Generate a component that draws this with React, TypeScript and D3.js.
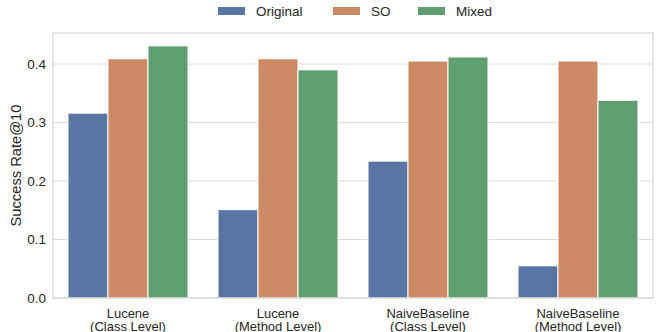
import React, { useEffect, useRef } from "react";
import * as d3 from "d3";

const categories = [
  ["Lucene", "(Class Level)"],
  ["Lucene", "(Method Level)"],
  ["NaiveBaseline", "(Class Level)"],
  ["NaiveBaseline", "(Method Level)"],
];
const seriesNames = ["Original", "SO", "Mixed"];
const original = [0.316, 0.151, 0.234, 0.055];
const so = [0.409, 0.409, 0.405, 0.405];
const mixed = [0.431, 0.390, 0.412, 0.338];
const yTicks = [0.0, 0.1, 0.2, 0.3, 0.4];
const colors = ["#5875a4", "#cc8963", "#5f9e6e"];

function App() {
  const svgRef = useRef<SVGSVGElement>(null);
  const width = 664;
  const height = 332;

  useEffect(() => {
    const svg = d3.select(svgRef.current);
    svg.selectAll("*").remove();
    const font = "'Liberation Sans', Arial, sans-serif";

    const margin = { top: 33, right: 11, bottom: 34, left: 53 };
    const x0 = d3
      .scaleBand<number>()
      .domain(d3.range(categories.length))
      .range([margin.left, width - margin.right])
      .paddingInner(0.2)
      .paddingOuter(0.1);
    const x1 = d3
      .scaleBand<number>()
      .domain(d3.range(seriesNames.length))
      .range([0, x0.bandwidth()]);
    const y = d3
      .scaleLinear()
      .domain([0, 0.453])
      .range([height - margin.bottom, margin.top]);

    // grid
    svg
      .append("g")
      .selectAll("line")
      .data(yTicks)
      .enter()
      .append("line")
      .attr("x1", margin.left)
      .attr("x2", width - margin.right)
      .attr("y1", (d) => y(d))
      .attr("y2", (d) => y(d))
      .attr("stroke", "#dcdcdc")
      .attr("stroke-width", 1);

    const series = [original, so, mixed];
    const g = svg.append("g");
    series.forEach((vals, si) => {
      g.selectAll(`.bar${si}`)
        .data(vals)
        .enter()
        .append("rect")
        .attr("x", (_, i) => (x0(i) as number) + (x1(si) as number))
        .attr("width", x1.bandwidth())
        .attr("y", (d) => y(d))
        .attr("height", (d) => y(0) - y(d))
        .attr("fill", colors[si])
        .attr("stroke", "white")
        .attr("stroke-width", 1);
    });

    // frame
    svg
      .append("rect")
      .attr("x", margin.left)
      .attr("y", margin.top)
      .attr("width", width - margin.left - margin.right)
      .attr("height", height - margin.top - margin.bottom)
      .attr("fill", "none")
      .attr("stroke", "#d6d6d6")
      .attr("stroke-width", 1.2);

    // y tick labels
    svg
      .append("g")
      .selectAll("text")
      .data(yTicks)
      .enter()
      .append("text")
      .attr("x", margin.left - 7)
      .attr("y", (d) => y(d))
      .attr("dy", "0.35em")
      .attr("text-anchor", "end")
      .style("font-family", font)
      .style("font-size", "13.5px")
      .style("fill", "#262626")
      .text((d) => d.toFixed(1));

    // x tick labels, two lines each
    const xl = svg
      .append("g")
      .selectAll("text")
      .data(categories)
      .enter()
      .append("text")
      .attr("text-anchor", "middle")
      .style("font-family", font)
      .style("font-size", "13px")
      .style("fill", "#262626");
    xl.append("tspan")
      .attr("x", (_, i) => (x0(i) as number) + x0.bandwidth() / 2)
      .attr("y", 317.5)
      .text((d) => d[0]);
    xl.append("tspan")
      .attr("x", (_, i) => (x0(i) as number) + x0.bandwidth() / 2)
      .attr("y", 331)
      .text((d) => d[1]);

    // y label
    svg
      .append("text")
      .attr("transform", `translate(21, ${(margin.top + height - margin.bottom) / 2}) rotate(-90)`)
      .attr("text-anchor", "middle")
      .style("font-family", font)
      .style("font-size", "14.7px")
      .style("fill", "#262626")
      .text("Success Rate@10");

    // legend
    const legendX = [218, 333, 418];
    const lg = svg
      .append("g")
      .selectAll("g")
      .data(seriesNames)
      .enter()
      .append("g")
      .attr("transform", (_, i) => `translate(${legendX[i]}, 7)`);
    lg.append("rect")
      .attr("width", 27)
      .attr("height", 8)
      .attr("fill", (_, i) => colors[i]);
    lg.append("text")
      .attr("x", 38)
      .attr("y", 4)
      .attr("dy", "0.35em")
      .style("font-family", font)
      .style("font-size", "13.5px")
      .style("fill", "#262626")
      .text((d) => d);
  }, []);

  return <svg ref={svgRef} width={width} height={height} style={{ position: "absolute", left: 0, top: 0 }}></svg>;
}

export default App;
